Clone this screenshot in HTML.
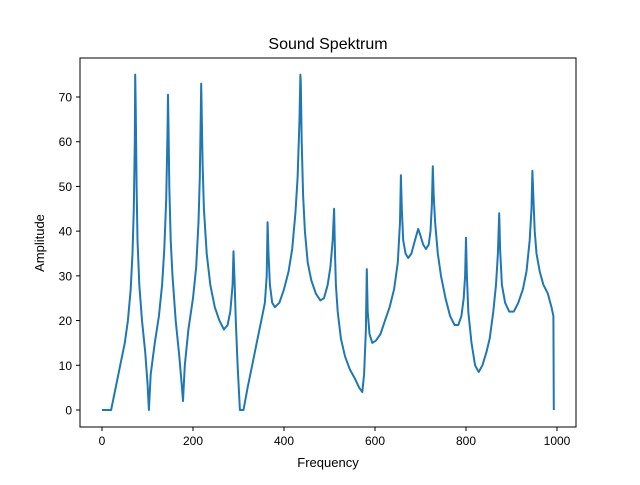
<!DOCTYPE html>
<html><head><meta charset="utf-8">
<style>
body{margin:0;background:#fff;}
svg text{font-family:"Liberation Sans","DejaVu Sans",sans-serif;fill:#000;}
</style></head>
<body>
<svg id="chart" width="640" height="480" xmlns="http://www.w3.org/2000/svg">
<rect x="0" y="0" width="640" height="480" fill="#fff"/>
<text x="328" y="49" text-anchor="middle" font-size="16">Sound Spektrum</text>
<text x="328" y="467" text-anchor="middle" font-size="13">Frequency</text>
<text x="44" y="243" text-anchor="middle" font-size="13" transform="rotate(-90 44 243)">Amplitude</text>
<g id="ticks"></g>
<path id="line" fill="none" stroke="#1f77b4" stroke-width="2" stroke-linejoin="round"/>
<rect x="80" y="58" width="496" height="369" fill="none" stroke="#000" stroke-width="1"/>
</svg>
<script>
const freqs=[0,20,30,40,50,57,63,67,70,72,73,74,76,78,82,88,95,100,103,107,116,125,132,137,141,144,145,146,148,151,155,162,170,175,178,182,190,200,207,212,215,217,218,219,221,224,230,238,248,258,268,276,282,287,289,291,294,298,303,311,320,330,340,350,358,362,364,366,369,374,380,390,400,410,418,425,430,434,436,437,439,442,446,452,460,470,480,488,496,502,507,510,512,514,518,525,534,545,556,565,572,576,580,582,584,588,594,602,612,622,632,642,650,655,657,659,662,667,673,680,688,695,700,706,712,718,722,725,727,729,732,738,745,755,765,775,783,790,795,798,800,802,805,812,820,828,836,845,852,860,866,870,873,875,879,886,895,905,915,925,933,940,944,946,948,951,955,962,970,980,988,992,993];
const amps=[0,0,5,10,15,20,27,35,45,60,75,68,50,38,28,20,13,6,0,8,15,21,28,36,47,62,70.5,65,50,38,30,20,12,6,2,10,18,25,32,42,52,65,73,68,55,45,35,28,23,20,18,19,22,28,35.5,30,20,10,0,0,5,10,15,20,24,30,42,35,28,24,23,24,27,31,36,44,52,65,75,73,60,48,40,33,29,26,24.5,25,28,32,38,45,35,28,22,16,12,9,7,5,4,8,18,31.5,22,17,15,15.5,17,20,23,27,33,42,52.5,45,38,35,34,35,38,40.5,39,37,36,37,40,46,54.5,48,42,35,30,25,21,19,19,21,25,30,38.5,30,22,15,10,8.5,10,13,16,22,28,35,44,36,28,24,22,22,24,27,31,38,45,53.5,48,40,35,31,28,26,23,21,0];
const xTicks=[0,200,400,600,800,1000];
const yTicks=[0,10,20,30,40,50,60,70];
const X0=102,X1=557,Y0=410,Y70=97;
function sx(v){return X0+(X1-X0)*v/1000;}
function sy(v){return Y0-(Y0-Y70)*v/70;}
const ns="http://www.w3.org/2000/svg";
const g=document.getElementById('ticks');
function mk(tag,attrs){const e=document.createElementNS(ns,tag);for(const k in attrs)e.setAttribute(k,attrs[k]);return e;}
xTicks.forEach(t=>{
  const x=sx(t);
  const l=mk('line',{x1:x,x2:x,y1:427,y2:431,stroke:'#000'});
  
  
  g.appendChild(l);
  const tx=mk('text',{x:x,y:445,'text-anchor':'middle','font-size':'12'});
  
  
  tx.textContent=t;g.appendChild(tx);
});
yTicks.forEach(t=>{
  const y=sy(t);
  const l=mk('line',{x1:76,x2:80,y1:y,y2:y,stroke:'#000'});
  
  
  g.appendChild(l);
  const tx=mk('text',{x:72,y:y+4.5,'text-anchor':'end','font-size':'12'});
  
  
  tx.textContent=t;g.appendChild(tx);
});
let d='';
freqs.forEach((f,i)=>{d+=(i?'L':'M')+sx(f).toFixed(1)+','+sy(amps[i]).toFixed(1);});
document.getElementById('line').setAttribute('d',d);
</script>
</body></html>
